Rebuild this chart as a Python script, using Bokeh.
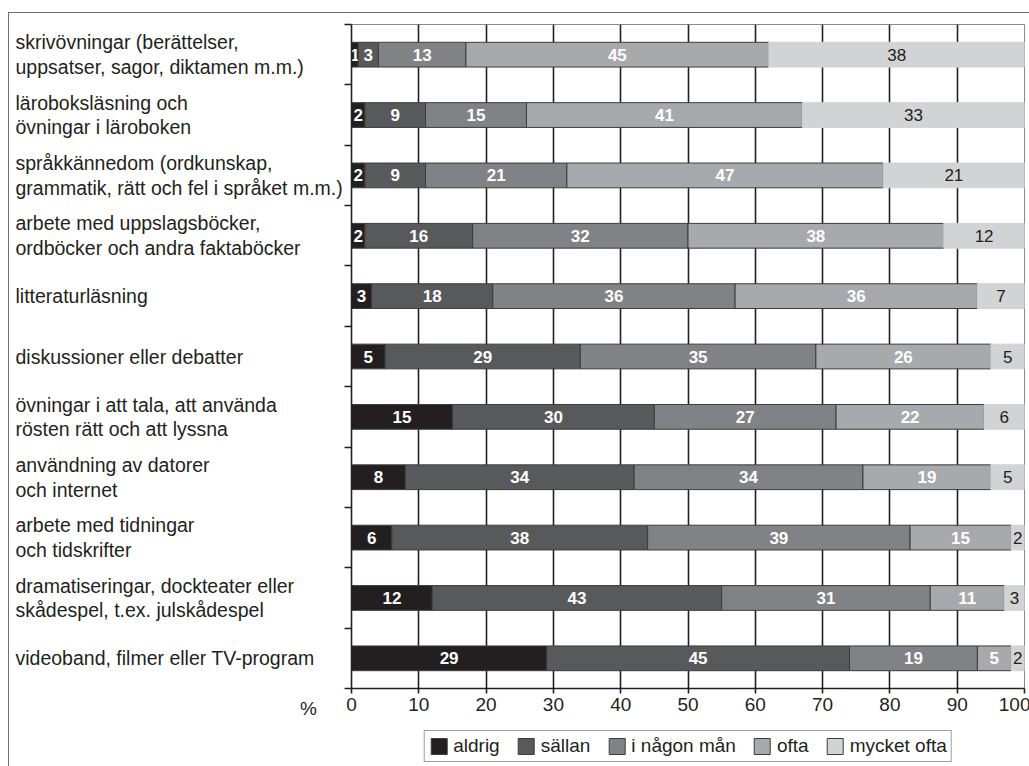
from bokeh.plotting import figure
from bokeh.layouts import row, column
from bokeh.models import (ColumnDataSource, Range1d, FixedTicker, Legend,
                          LegendItem)
from bokeh.core.properties import value
from bokeh.embed import file_html
from bokeh.resources import INLINE

# Activities (top to bottom)
activities = [
    "skrivövningar (berättelser,\nuppsatser, sagor, diktamen m.m.)",
    "läroboksläsning och\növningar i läroboken",
    "språkkännedom (ordkunskap,\ngrammatik, rätt och fel i språket m.m.)",
    "arbete med uppslagsböcker,\nordböcker och andra faktaböcker",
    "litteraturläsning",
    "diskussioner eller debatter",
    "övningar i att tala, att använda\nrösten rätt och att lyssna",
    "användning av datorer\noch internet",
    "arbete med tidningar\noch tidskrifter",
    "dramatiseringar, dockteater eller\nskådespel, t.ex. julskådespel",
    "videoband, filmer eller TV-program",
]

# Answer categories
series_names = ["aldrig", "sällan", "i någon mån", "ofta", "mycket ofta"]

# Percentages per activity, one list per answer category
aldrig = [1, 2, 2, 2, 3, 5, 15, 8, 6, 12, 29]
sallan = [3, 9, 9, 16, 18, 29, 30, 34, 38, 43, 45]
i_nagon_man = [13, 15, 21, 32, 36, 35, 27, 34, 39, 31, 19]
ofta = [45, 41, 47, 38, 36, 26, 22, 19, 15, 11, 5]
mycket_ofta = [38, 33, 21, 12, 7, 5, 6, 5, 2, 3, 2]

x_ticks = [0, 10, 20, 30, 40, 50, 60, 70, 80, 90, 100]
unit_label = "%"

series = [aldrig, sallan, i_nagon_man, ofta, mycket_ofta]
colors = ["#231f20", "#58595b", "#808285", "#a7a9ac", "#d1d3d4"]
INK = "#231f20"
EDGE = "#3c3c3c"
FONT = "Liberation Sans"

n = len(activities)
rows = [n - i - 0.5 for i in range(n)]
y_range = Range1d(0, n)

# stacked segment sources, one per answer category
sources = []
left = [0.0] * n
for vals in series:
    right = [l + v for l, v in zip(left, vals)]
    sources.append(ColumnDataSource(dict(
        y=rows, left=left, right=right,
        mid=[(l + r) / 2 for l, r in zip(left, right)],
        txt=[str(v) for v in vals])))
    left = right

# ---- main chart -------------------------------------------------------
p = figure(frame_width=673, frame_height=664, output_backend="svg",
           toolbar_location=None, x_range=Range1d(0, 100), y_range=y_range,
           min_border_left=8, min_border_right=6, min_border_top=11,
           min_border_bottom=40)
p.background_fill_color = "white"
p.border_fill_color = "white"
p.outline_line_color = "#8a8a8a"
p.outline_line_width = 1

for k, (src, col) in enumerate(zip(sources, colors)):
    p.hbar(y="y", left="left", right="right", height=0.41, source=src,
           fill_color=col,
           line_color=(EDGE if k < 4 else col), line_width=1)
    p.text(x="mid", y="y", text="txt", source=src,
           text_align="center", text_baseline="middle",
           text_font=value(FONT), text_font_size="17px",
           text_font_style=("bold" if k < 4 else "normal"),
           text_color=("white" if k < 4 else INK))

xa = p.xaxis[0]
xa.ticker = FixedTicker(ticks=x_ticks)
xa.axis_line_color = INK
xa.axis_line_width = 1.6
xa.major_tick_line_color = INK
xa.major_tick_line_width = 1.6
xa.major_tick_out = 5
xa.major_tick_in = 0
xa.minor_tick_line_color = None
xa.major_label_text_font = FONT
xa.major_label_text_font_size = "19px"
xa.major_label_text_color = INK
xa.major_label_standoff = 4

ya = p.yaxis[0]
ya.ticker = FixedTicker(ticks=list(range(n + 1)))
ya.major_label_overrides = {i: "" for i in range(n + 1)}
ya.major_label_standoff = 0
ya.axis_line_color = INK
ya.axis_line_width = 1.6
ya.major_tick_line_color = INK
ya.major_tick_line_width = 1.6
ya.major_tick_out = 7
ya.major_tick_in = 0
ya.minor_tick_line_color = None

p.xgrid.ticker = FixedTicker(ticks=x_ticks[1:-1])
p.xgrid.grid_line_color = INK
p.xgrid.grid_line_width = 1.6
p.ygrid.grid_line_color = None

# ---- activity label column -------------------------------------------
q = figure(frame_width=334, frame_height=664, output_backend="svg",
           toolbar_location=None, x_range=Range1d(0, 334), y_range=y_range,
           min_border_left=0, min_border_right=0, min_border_top=11,
           min_border_bottom=40, y_axis_location=None)
q.background_fill_color = "white"
q.border_fill_color = "white"
q.outline_line_color = None
q.grid.grid_line_color = None
q.text(x=[6] * n, y=rows, text=activities, text_align="left",
       text_baseline="middle", text_font=value(FONT), text_font_size="19.5px",
       text_color=INK, text_line_height=1.12)

qa = q.xaxis[0]
qa.ticker = FixedTicker(ticks=[299])
qa.major_label_overrides = {299: unit_label}
qa.axis_line_color = None
qa.major_tick_line_color = None
qa.major_tick_out = 5
qa.major_tick_in = 0
qa.minor_tick_line_color = None
qa.major_label_text_font = FONT
qa.major_label_text_font_size = "19px"
qa.major_label_text_color = INK
qa.major_label_standoff = 4

# ---- legend strip under the bars ---------------------------------------
g = figure(frame_width=673, frame_height=39, output_backend="svg",
           toolbar_location=None, x_range=Range1d(0, 100), y_range=y_range,
           min_border_left=342, min_border_right=6, min_border_top=0,
           min_border_bottom=0, x_axis_location=None, y_axis_location=None)
g.background_fill_color = "white"
g.border_fill_color = "white"
g.outline_line_color = None
g.grid.grid_line_color = None

# hidden copies of the segments; they only supply the legend swatches
items = []
for name, src, col in zip(series_names, sources, colors):
    r = g.hbar(y="y", left="left", right="right", height=0.41, source=src,
               fill_color=col, line_color=EDGE, line_width=1, visible=False)
    items.append(LegendItem(label=name, renderers=[r]))

legend = Legend(items=items, orientation="horizontal", location="top_center",
                border_line_color=EDGE, border_line_width=1,
                background_fill_color="white", background_fill_alpha=1,
                label_text_font=FONT, label_text_font_size="19px",
                label_text_color=INK, glyph_width=20, glyph_height=20,
                label_standoff=5, spacing=16, padding=4, margin=2,
                label_height=20)
g.add_layout(legend, "center")

layout = column(row(q, p, spacing=0), g, spacing=0)
layout.margin = (12, 0, 0, 8)
layout.styles = {"border-top": "1px solid #6d6e71",
                 "border-left": "1px solid #6d6e71",
                 "background": "white"}

open("out.html", "w").write(file_html(layout, INLINE))
